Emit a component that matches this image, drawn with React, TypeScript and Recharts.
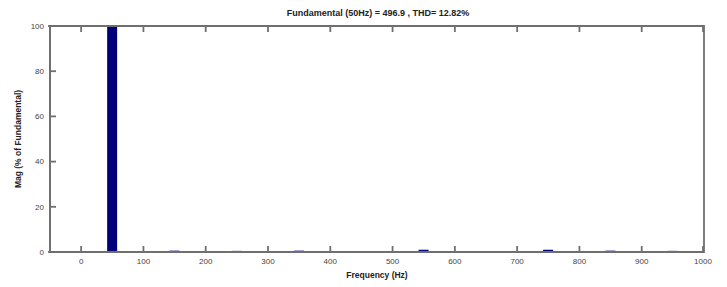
import React from 'react';
import { ComposedChart, Bar, XAxis, YAxis, Label, ReferenceArea } from 'recharts';

const harmonicFreqs = [50, 150, 250, 350, 450, 550, 650, 750, 850, 950];
const harmonicMags = [100, 0.6, 0.5, 0.6, 0.35, 1.0, 0.3, 1.0, 0.6, 0.5];
const xTicks = [0, 100, 200, 300, 400, 500, 600, 700, 800, 900, 1000];
const yTicks = [0, 20, 40, 60, 80, 100];
const xDomain = [-50, 1000];
const yDomain = [0, 100];
const titleText = 'Fundamental (50Hz) = 496.9 , THD= 12.82%';
const xLabel = 'Frequency (Hz)';
const yLabel = 'Mag (% of Fundamental)';

const data = harmonicFreqs.map((f, i) => ({ freq: f, mag: harmonicMags[i] }));

const axisColor = '#6f6f6f';
const font = 'Liberation Sans, Arial, sans-serif';
const T = 1.8; // line thickness
const h = T / 2;

const hbar = (x1: number, x2: number, y: number) =>
  `M${x1},${y - h}L${x2},${y - h}L${x2},${y + h}L${x1},${y + h}Z`;
const vbar = (x: number, y1: number, y2: number) =>
  `M${x - h},${y1}L${x + h},${y1}L${x + h},${y2}L${x - h},${y2}Z`;

const num = (v: any) => (typeof v === 'number' && isFinite(v) ? v : null);

const BottomTick = (p: any) => {
  const w = num(p.width);
  const last = p.payload.value === xTicks[xTicks.length - 1];
  return (
    <g>
      {last && w !== null ? <path d={hbar(p.x - w - h, p.x + h, p.y)} fill={axisColor} /> : null}
      <path d={vbar(p.x, p.y - 6, p.y)} fill={axisColor} />
      <text x={p.x} y={p.y + 6} dy="0.71em" textAnchor="middle" fontSize={8} fill="#444">
        {p.payload.value}
      </text>
    </g>
  );
};
const TopTick = (p: any) => {
  const w = num(p.width);
  const last = p.payload.value === xTicks[xTicks.length - 1];
  return (
    <g>
      {last && w !== null ? <path d={hbar(p.x - w - h, p.x + h, p.y)} fill={axisColor} /> : null}
      <path d={vbar(p.x, p.y, p.y + 6)} fill={axisColor} />
    </g>
  );
};
const LeftTick = (p: any) => {
  const ht = num(p.height);
  const first = p.payload.value === yTicks[0];
  return (
    <g>
      {first && ht !== null ? <path d={vbar(p.x, p.y - ht - h, p.y + h)} fill={axisColor} /> : null}
      <path d={hbar(p.x, p.x + 6, p.y)} fill={axisColor} />
      <text x={p.x - 6} y={p.y} dy="0.355em" textAnchor="end" fontSize={8} fill="#444">
        {p.payload.value}
      </text>
    </g>
  );
};
const RightTick = (p: any) => {
  const ht = num(p.height);
  const first = p.payload.value === yTicks[0];
  return (
    <g>
      {first && ht !== null ? <path d={vbar(p.x, p.y - ht - h, p.y + h)} fill={axisColor} /> : null}
      <path d={hbar(p.x - 6, p.x, p.y)} fill={axisColor} />
    </g>
  );
};

const Frame = (p: any) => {
  const { x, y, width, height } = p;
  if ([x, y, width, height].some((v) => num(v) === null)) return <g />;
  const outer = `M${x - h},${y - h}L${x + width + h},${y - h}L${x + width + h},${y + height + h}L${x - h},${y + height + h}Z`;
  const inner = `M${x + h},${y + h}L${x + h},${y + height - h}L${x + width - h},${y + height - h}L${x + width - h},${y + h}Z`;
  return <path d={outer + inner} fill={axisColor} fillRule="evenodd" />;
};

export default function App() {
  return (
    <div style={{ width: 711, height: 279, position: 'relative', fontFamily: font }}>
      <div
        style={{
          position: 'absolute',
          left: 42,
          width: 656,
          top: 0,
          textAlign: 'center',
          fontSize: 9,
          fontWeight: 'bold',
          color: '#222',
        }}
      >
        {titleText}
      </div>
      <ComposedChart
        width={711}
        height={279}
        data={data}
        margin={{ top: 17, right: 0, bottom: 0, left: 0 }}
        style={{ fontFamily: font }}
      >
        <XAxis
          xAxisId="b"
          dataKey="freq"
          type="number"
          domain={xDomain}
          ticks={xTicks}
          allowDataOverflow
          height={35}
          axisLine={false}
          tickLine={false}
          tickSize={0}
          tickMargin={0}
          tick={<BottomTick />}
        >
          <Label value={xLabel} position="insideBottom" offset={9} style={{ fontSize: 8.5, fontWeight: 'bold', fill: '#222' }} />
        </XAxis>
        <XAxis
          xAxisId="t"
          orientation="top"
          dataKey="freq"
          type="number"
          domain={xDomain}
          ticks={xTicks}
          allowDataOverflow
          height={1}
          axisLine={false}
          tickLine={false}
          tickSize={0}
          tickMargin={0}
          tick={<TopTick />}
        />
        <YAxis
          yAxisId="l"
          type="number"
          domain={yDomain}
          ticks={yTicks}
          width={42}
          axisLine={false}
          tickLine={false}
          tickSize={0}
          tickMargin={0}
          tick={<LeftTick />}
        >
          <Label
            value={yLabel}
            angle={-90}
            position="insideLeft"
            offset={10}
            style={{ fontSize: 8.5, fontWeight: 'bold', fill: '#222', textAnchor: 'middle' }}
          />
        </YAxis>
        <YAxis
          yAxisId="r"
          orientation="right"
          type="number"
          domain={yDomain}
          ticks={yTicks}
          width={15}
          axisLine={false}
          tickLine={false}
          tickSize={0}
          tickMargin={0}
          tick={<RightTick />}
        />
        <ReferenceArea
          xAxisId="b"
          yAxisId="l"
          x1={xDomain[0]}
          x2={xDomain[1]}
          y1={yDomain[0]}
          y2={yDomain[1]}
          ifOverflow="visible"
          shape={<Frame />}
        />
        <Bar
          xAxisId="b"
          yAxisId="l"
          dataKey="mag"
          fill="#00007a"
          barSize={10}
          isAnimationActive={false}
        />
      </ComposedChart>
    </div>
  );
}
